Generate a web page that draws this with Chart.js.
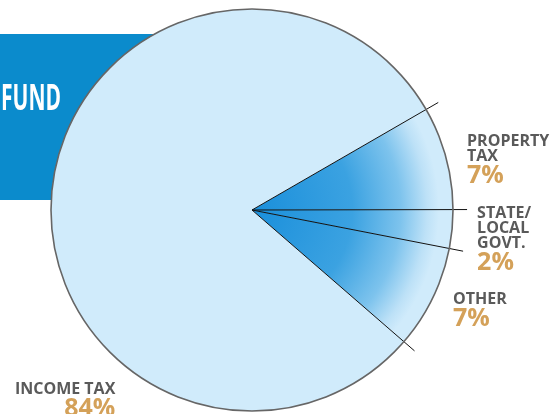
<!DOCTYPE html>
<html>
<head>
<meta charset="utf-8">
<script src="https://cdn.jsdelivr.net/npm/chart.js@4"></script>
<style>
html,body{margin:0;padding:0;background:#fff;}
canvas{display:block;}
</style>
</head>
<body>
<canvas id="c" width="553" height="414"></canvas>
<script>
// ---- data ----
const categories = ['PROPERTY TAX', 'STATE/LOCAL GOVT.', 'OTHER', 'INCOME TAX'];
const labelLines = [['PROPERTY', 'TAX'], ['STATE/', 'LOCAL', 'GOVT.'], ['OTHER'], ['INCOME TAX']];
const percentLabels = ['7%', '2%', '7%', '84%'];
// slice sizes as drawn in the picture (share of the circle)
const sliceValues = [8.3, 3.1, 8.3, 80.3];
const headerText = 'FUND';

// ---- styles / layout ----
const GREY = '#5a5a5a', GOLD = '#d4a159', LIGHT = '#d0ebfb', HEADER_BLUE = '#0b8bcc';
// label anchors relative to pie centre, in units of radius: [dx, dy, align]
const labelAnchors = [
  [1.07, -0.32, 'left'],
  [1.12, 0.04, 'left'],
  [1.0, 0.47, 'left'],
  [-0.68, 0.917, 'right']
];

function pieGeom(chart) {
  const meta = chart.getDatasetMeta(0);
  const a = meta.data[0];
  return {x: a.x, y: a.y, r: a.outerRadius, arcs: meta.data};
}

const decor = {
  id: 'decor',
  beforeDraw(chart) {
    const ctx = chart.ctx;
    ctx.save();
    ctx.fillStyle = '#fff';
    ctx.fillRect(0, 0, chart.width, chart.height);
    ctx.fillStyle = HEADER_BLUE;
    ctx.fillRect(0, 34, 200, 166);
    ctx.fillStyle = '#fff';
    ctx.font = 'bold 35px "Open Sans", sans-serif';
    ctx.textAlign = 'right';
    ctx.textBaseline = 'alphabetic';
    const w = ctx.measureText(headerText).width;
    const sx = 60 / w;
    ctx.translate(61, 110);
    ctx.scale(sx, 1);
    ctx.fillText(headerText, 0, 0);
    ctx.restore();
  },
  afterDatasetsDraw(chart) {
    const ctx = chart.ctx;
    const g = pieGeom(chart);
    ctx.save();
    ctx.strokeStyle = '#111';
    ctx.lineWidth = 1;
    const angles = [g.arcs[0].startAngle, g.arcs[0].endAngle, g.arcs[1].endAngle, g.arcs[2].endAngle];
    const L = g.r * 1.07;
    angles.forEach(a => {
      ctx.beginPath();
      ctx.moveTo(g.x, g.y);
      ctx.lineTo(g.x + Math.cos(a) * L, g.y + Math.sin(a) * L);
      ctx.stroke();
    });
    ctx.strokeStyle = '#666';
    ctx.lineWidth = 1.6;
    ctx.beginPath();
    ctx.arc(g.x, g.y, g.r, 0, Math.PI * 2);
    ctx.stroke();
    ctx.restore();
  },
  afterDraw(chart) {
    const ctx = chart.ctx;
    const g = pieGeom(chart);
    ctx.save();
    ctx.textBaseline = 'alphabetic';
    labelLines.forEach((lines, i) => {
      const [dx, dy, align] = labelAnchors[i];
      const x = g.x + dx * g.r;
      let y = g.y + dy * g.r;
      ctx.textAlign = align;
      ctx.fillStyle = GREY;
      ctx.font = 'bold 16px "Open Sans", sans-serif';
      lines.forEach(t => { ctx.fillText(t, x, y); y += 15; });
      ctx.fillStyle = GOLD;
      ctx.font = 'bold 25px "Open Sans", sans-serif';
      ctx.fillText(percentLabels[i], x, y + 7);
    });
    ctx.restore();
  }
};

function sliceFill(context) {
  const i = context.dataIndex;
  if (i === 3) return LIGHT;
  const chart = context.chart;
  const ca = chart.chartArea;
  if (!ca) return LIGHT;
  const cx = (ca.left + ca.right) / 2, cy = (ca.top + ca.bottom) / 2;
  const r = Math.min(ca.right - ca.left, ca.bottom - ca.top) / 2;
  const grd = chart.ctx.createRadialGradient(cx, cy, 0, cx, cy, r);
  grd.addColorStop(0, '#1a8fdb');
  grd.addColorStop(0.5, '#3ba2e1');
  grd.addColorStop(0.74, '#7dc3ed');
  grd.addColorStop(0.87, '#bde1f7');
  grd.addColorStop(0.93, LIGHT);
  grd.addColorStop(1, LIGHT);
  return grd;
}

new Chart(document.getElementById('c'), {
  type: 'pie',
  data: {
    labels: categories,
    datasets: [{
      data: sliceValues,
      backgroundColor: sliceFill,
      borderWidth: 0
    }]
  },
  options: {
    responsive: false,
    animation: false,
    rotation: 60,
    layout: {padding: {left: 51, right: 100, top: 9, bottom: 3}},
    plugins: {legend: {display: false}, tooltip: {enabled: false}}
  },
  plugins: [decor]
});
</script>
</body>
</html>
